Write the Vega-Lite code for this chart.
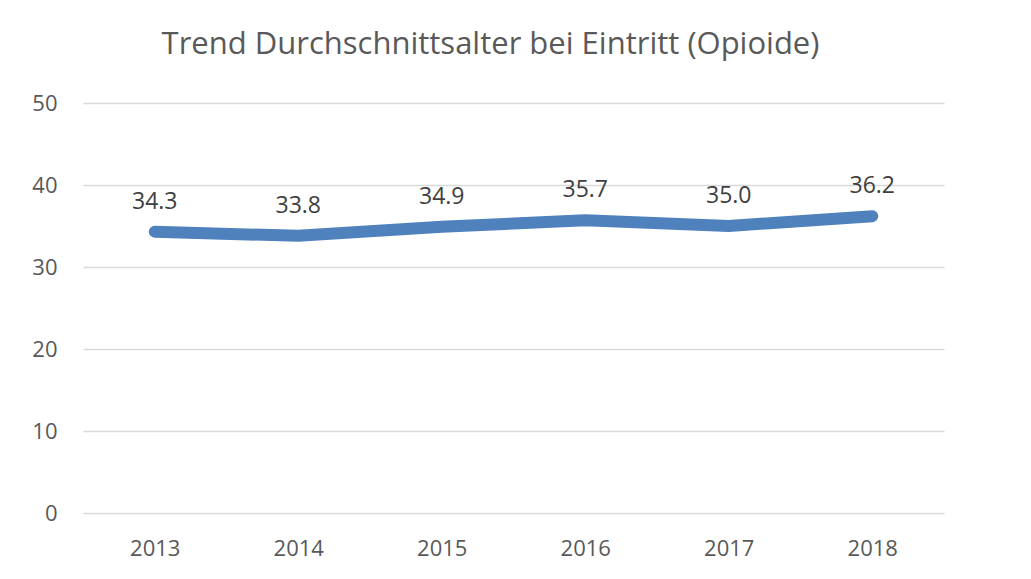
{
  "$schema": "https://vega.github.io/schema/vega-lite/v6.json",
  "autosize": {"type": "none"},
  "width": 861,
  "height": 410,
  "padding": {"left": 83, "top": 103, "right": 87, "bottom": 66},
  "background": "white",
  "config": {
    "view": {"stroke": null},
    "font": "Open Sans"
  },
  "title": {
    "text": "Trend Durchschnittsalter bei Eintritt (Opioide)",
    "font": "Open Sans",
    "fontSize": 31,
    "fontWeight": "normal",
    "color": "#595959",
    "anchor": "middle",
    "frame": "group",
    "dx": -23,
    "baseline": "alphabetic",
    "offset": 7
  },
  "data": {
    "values": [
      {"Jahr": "2013", "Alter": 34.3, "Label": "34.3"},
      {"Jahr": "2014", "Alter": 33.8, "Label": "33.8"},
      {"Jahr": "2015", "Alter": 34.9, "Label": "34.9"},
      {"Jahr": "2016", "Alter": 35.7, "Label": "35.7"},
      {"Jahr": "2017", "Alter": 35.0, "Label": "35.0"},
      {"Jahr": "2018", "Alter": 36.2, "Label": "36.2"}
    ]
  },
  "encoding": {
    "x": {
      "field": "Jahr",
      "type": "ordinal",
      "scale": {"type": "point", "padding": 0.5},
      "axis": {
        "title": null,
        "labelAngle": 0,
        "ticks": false,
        "domain": false,
        "grid": false,
        "labelFont": "Open Sans",
        "labelFontSize": 22,
        "labelColor": "#595959",
        "labelPadding": 25
      }
    },
    "y": {
      "field": "Alter",
      "type": "quantitative",
      "scale": {"domain": [0, 50], "nice": false, "zero": true},
      "axis": {
        "title": null,
        "values": [0, 10, 20, 30, 40, 50],
        "ticks": false,
        "domain": false,
        "grid": true,
        "gridColor": "#d9d9d9",
        "gridWidth": 1.3,
        "labelFont": "Open Sans",
        "labelFontSize": 22,
        "labelColor": "#595959",
        "labelPadding": 26
      }
    }
  },
  "layer": [
    {
      "mark": {"type": "line", "color": "#4F81BD", "strokeWidth": 12, "strokeCap": "round", "strokeJoin": "round"}
    },
    {
      "mark": {"type": "text", "dy": -30, "baseline": "middle", "align": "center", "font": "Open Sans", "fontSize": 23, "color": "#404040"},
      "encoding": {"text": {"field": "Label"}}
    }
  ]
}
